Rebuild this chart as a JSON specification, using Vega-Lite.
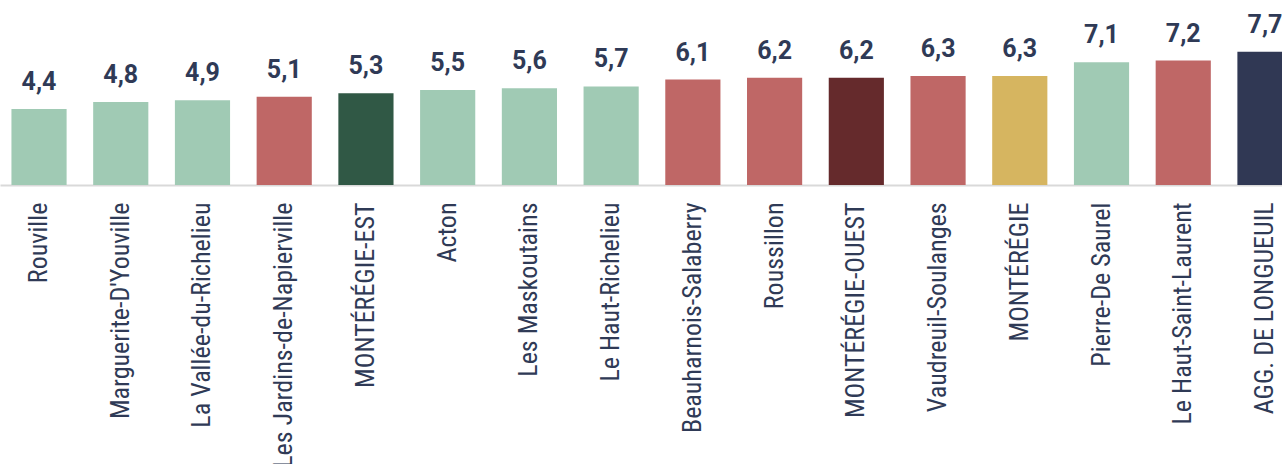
{
  "$schema": "https://vega.github.io/schema/vega-lite/v6.json",
  "width": 1304,
  "height": 185,
  "padding": 0,
  "background": "white",
  "config": {
    "view": {"stroke": null},
    "locale": {"number": {"decimal": ",", "thousands": " ", "grouping": [3], "currency": ["", " $"]}}
  },
  "data": {
    "values": [
      {"region": "Rouville", "value": 4.4, "group": "g"},
      {"region": "Marguerite-D'Youville", "value": 4.8, "group": "g"},
      {"region": "La Vallée-du-Richelieu", "value": 4.9, "group": "g"},
      {"region": "Les Jardins-de-Napierville", "value": 5.1, "group": "r"},
      {"region": "MONTÉRÉGIE-EST", "value": 5.3, "group": "est"},
      {"region": "Acton", "value": 5.5, "group": "g"},
      {"region": "Les Maskoutains", "value": 5.6, "group": "g"},
      {"region": "Le Haut-Richelieu", "value": 5.7, "group": "g"},
      {"region": "Beauharnois-Salaberry", "value": 6.1, "group": "r"},
      {"region": "Roussillon", "value": 6.2, "group": "r"},
      {"region": "MONTÉRÉGIE-OUEST", "value": 6.2, "group": "ouest"},
      {"region": "Vaudreuil-Soulanges", "value": 6.3, "group": "r"},
      {"region": "MONTÉRÉGIE", "value": 6.3, "group": "mont"},
      {"region": "Pierre-De Saurel", "value": 7.1, "group": "g"},
      {"region": "Le Haut-Saint-Laurent", "value": 7.2, "group": "r"},
      {"region": "AGG. DE LONGUEUIL", "value": 7.7, "group": "long"}
    ]
  },
  "encoding": {
    "x": {
      "field": "region", "type": "nominal", "sort": null,
      "scale": {"paddingInner": 0.325, "paddingOuter": 0.14},
      "axis": {
        "title": null, "ticks": false, "labelAngle": -90, "labelPadding": 17,
        "labelFont": "Liberation Sans Narrow, Roboto Condensed, DejaVu Sans Condensed, sans-serif",
        "labelFontSize": 26, "labelColor": "#2f3a56", "labelLimit": 400,
        "domainColor": "#d9d9d9", "domainWidth": 2, "labelOverlap": false
      }
    },
    "y": {
      "field": "value", "type": "quantitative",
      "scale": {"domain": [0, 10.7], "nice": false},
      "axis": null
    }
  },
  "layer": [
    {
      "mark": {"type": "bar"},
      "encoding": {
        "color": {
          "field": "group", "type": "nominal", "legend": null,
          "scale": {
            "domain": ["g", "r", "est", "ouest", "mont", "long"],
            "range": ["#a0cab4", "#bf6766", "#305845", "#652a2c", "#d6b560", "#303854"]
          }
        }
      }
    },
    {
      "mark": {"type": "text", "baseline": "alphabetic", "dy": -19, "font": "Roboto", "fontWeight": "bold", "fontSize": 25, "color": "#2f3a56"},
      "encoding": {
        "text": {"field": "value", "type": "quantitative", "format": ".1f"}
      }
    }
  ]
}
